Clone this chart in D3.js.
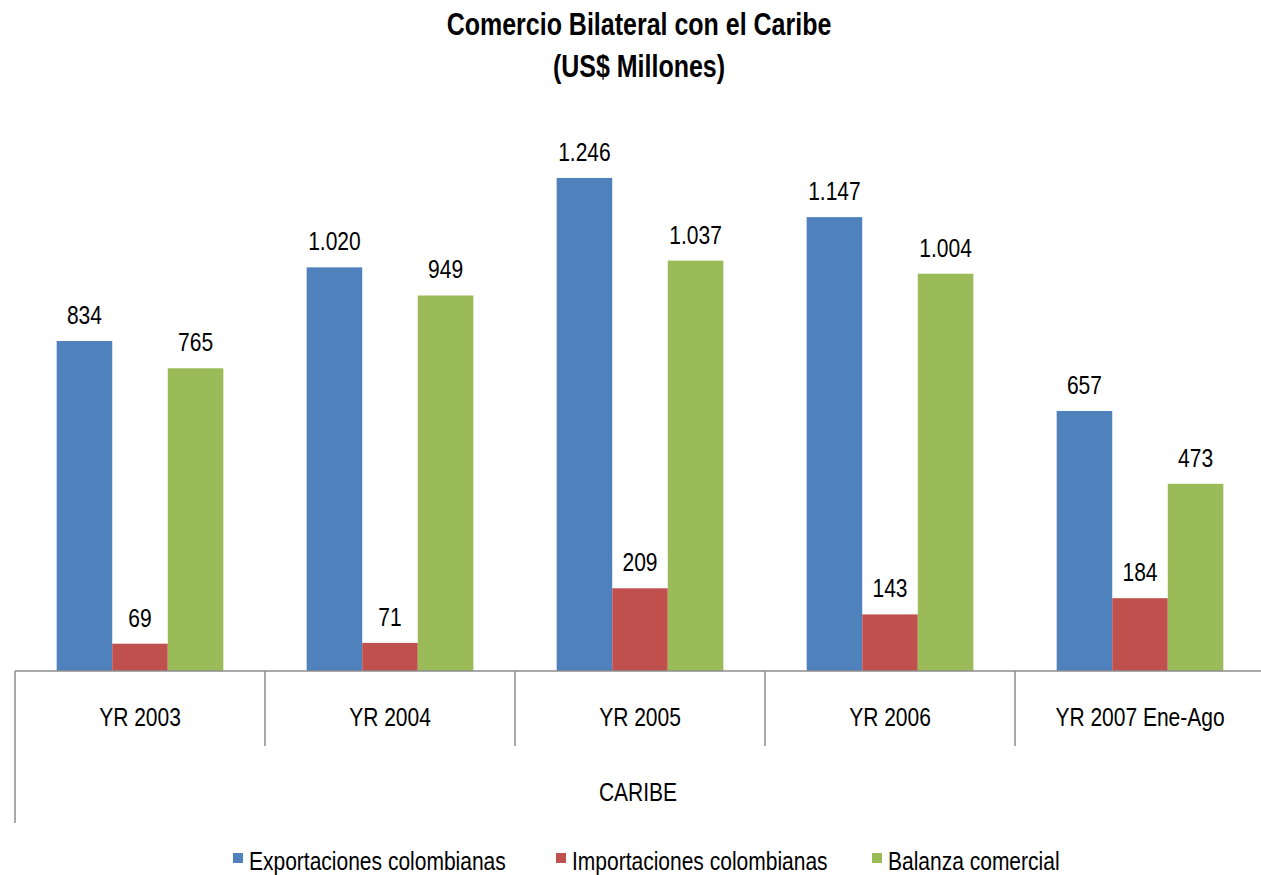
<!DOCTYPE html>
<html>
<head>
<meta charset="utf-8">
<script src="https://cdn.jsdelivr.net/npm/d3@7"></script>
<style>
  body { margin: 0; background: #fff; }
  svg text { font-family: "Liberation Sans Narrow", "Arial Narrow", "Liberation Sans", sans-serif; fill: #000; }
</style>
</head>
<body>
<svg id="chart"></svg>
<script>
var categories = ["YR 2003", "YR 2004", "YR 2005", "YR 2006", "YR 2007 Ene-Ago"];
var seriesNames = ["Exportaciones colombianas", "Importaciones colombianas", "Balanza comercial"];
var exportaciones = [834, 1020, 1246, 1147, 657];
var importaciones = [69, 71, 209, 143, 184];
var balanza = [765, 949, 1037, 1004, 473];
var groupLabel = "CARIBE";
var colors = ["#4F81BD", "#C0504D", "#9BBB59"];

var width = 1261,
    height = 875,
    stretch = 1.25;

var svg = d3.select("#chart")
    .attr("width", width)
    .attr("height", height);

var series = [exportaciones, importaciones, balanza];

var locale = d3.formatLocale({ decimal: ",", thousands: ".", grouping: [3], currency: ["$", ""] });
var fmt = locale.format(",d");

var x = d3.scaleBand()
    .domain(categories)
    .range([15, 1265]);

var xInner = d3.scaleBand()
    .domain(d3.range(series.length))
    .range([0, x.bandwidth()])
    .paddingOuter(0.75);

var y = d3.scaleLinear()
    .domain([0, 1400])
    .range([671, 117]);

// text helper: tall narrow look of the original
function label(parent, tx, ty, str, size, weight, anchor) {
    var g = parent.append("g")
        .attr("transform", "translate(" + tx + "," + ty + ") scale(1," + stretch + ")");
    g.append("text")
        .attr("text-anchor", anchor || "middle")
        .style("font-size", size + "px")
        .style("font-weight", weight || "normal")
        .text(str);
    return g;
}

// title
label(svg, 639, 35, "Comercio Bilateral con el Caribe", 25, "bold");
label(svg, 639, 77, "(US$ Millones)", 25, "bold");

// bars
var groups = svg.append("g").selectAll("g")
    .data(categories)
    .enter().append("g")
    .attr("transform", function(d) { return "translate(" + x(d) + ",0)"; });

groups.selectAll("rect")
    .data(function(d, i) { return series.map(function(s, j) { return { s: j, v: s[i] }; }); })
    .enter().append("rect")
    .attr("x", function(d) { return xInner(d.s); })
    .attr("y", function(d) { return y(d.v); })
    .attr("width", xInner.bandwidth())
    .attr("height", function(d) { return y(0) - y(d.v); })
    .attr("fill", function(d) { return colors[d.s]; });

groups.each(function(c, i) {
    var g = d3.select(this);
    series.forEach(function(s, j) {
        label(g, xInner(j) + xInner.bandwidth() / 2, y(s[i]) - 17, fmt(s[i]), 21);
    });
});

// axis lines
var axis = svg.append("g")
    .attr("stroke", "#8c8c8c")
    .attr("stroke-width", 1.5);

axis.append("line")
    .attr("x1", x.range()[0]).attr("x2", width)
    .attr("y1", y(0)).attr("y2", y(0));

axis.append("line")
    .attr("x1", x.range()[0]).attr("x2", x.range()[0])
    .attr("y1", y(0)).attr("y2", 823);

axis.selectAll("line.div")
    .data(categories.slice(1))
    .enter().append("line")
    .attr("class", "div")
    .attr("x1", function(d) { return x(d); })
    .attr("x2", function(d) { return x(d); })
    .attr("y1", y(0)).attr("y2", 746);

categories.forEach(function(c) {
    label(svg, x(c) + x.bandwidth() / 2, 726, c, 21);
});

label(svg, (x.range()[0] + width) / 2, 801, groupLabel, 21);

// legend
var legendX = [233, 556, 872];
seriesNames.forEach(function(name, j) {
    svg.append("rect")
        .attr("x", legendX[j]).attr("y", 853)
        .attr("width", 10).attr("height", 10)
        .attr("fill", colors[j]);
    label(svg, legendX[j] + 16, 870, name, 21, "normal", "start");
});
</script>
</body>
</html>
